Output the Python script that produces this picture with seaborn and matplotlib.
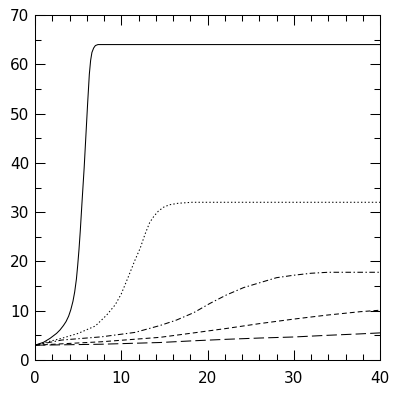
import numpy as np
import pandas as pd
import matplotlib
matplotlib.use("Agg")
import matplotlib.pyplot as plt
import seaborn as sns
from matplotlib.ticker import MultipleLocator

# values
x1 = [0, 1, 1.75, 2.5, 2.9, 3.3, 3.6, 3.9, 4.15, 4.4, 4.6, 4.8, 4.95, 5.1,
      5.25, 5.45, 5.7, 5.9, 6.1, 6.3, 6.45, 6.6, 6.8, 7.0, 7.3, 8, 40]
y1 = [3.0, 3.6, 4.4, 5.4, 6.1, 7.0, 7.8, 8.9, 10.2, 11.9, 13.8, 16.4, 19.2, 22.4,
      26.2, 32.0, 39.0, 45.5, 52.0, 58.0, 60.8, 62.4, 63.3, 63.8, 64.0, 64.0, 64.0]

x2 = [0, 1.5, 3.1, 5.0, 7.0, 8.3, 9.3, 10.0, 10.8, 11.6, 12.2, 12.75, 13.3,
      13.8, 14.3, 14.9, 15.6, 16.6, 18.2, 40]
y2 = [3.0, 3.7, 4.4, 5.4, 6.9, 9.1, 11.2, 13.4, 16.8, 20.3, 22.7, 25.5, 27.9,
      29.2, 30.2, 31.0, 31.5, 31.8, 32.0, 32.0]

x3 = [0, 3.1, 7.7, 11.6, 14.5, 16.4, 18.4, 20.3, 22.2, 24.2, 26.1, 28, 30, 32,
      34, 36, 40]
y3 = [3.0, 4.05, 4.7, 5.6, 7.0, 8.1, 9.6, 11.5, 13.2, 14.7, 15.7, 16.7, 17.2,
      17.6, 17.8, 17.8, 17.8]

x4 = [0, 7.7, 14.5, 18.4, 22.2, 26.1, 30, 33.8, 37.7, 40]
y4 = [3.0, 3.7, 4.6, 5.5, 6.4, 7.4, 8.3, 9.1, 9.8, 10.1]

x5 = [0, 7.7, 14.5, 18.4, 22.2, 26.1, 30, 33.8, 37.7, 40]
y5 = [3.0, 3.2, 3.55, 3.9, 4.2, 4.46, 4.67, 5.0, 5.3, 5.5]

xs = [x1, x2, x3, x4, x5]
ys = [y1, y2, y3, y4, y5]
styles = ["-", (0, (1, 1.6)), (0, (4, 1.8, 1, 1.8)), (0, (3.5, 2.2)), (0, (7.5, 3))]

sns.set_style("ticks")
plt.rcParams["font.family"] = ["DejaVu Sans"]
plt.rcParams["lines.scale_dashes"] = False

fig = plt.figure(figsize=(4, 3.94), dpi=100)
ax = fig.add_axes([35 / 400, 34 / 394, 345 / 400, 345 / 394])

for xv, yv, ls in zip(xs, ys, styles):
    df = pd.DataFrame({"x": xv, "y": yv})
    sns.lineplot(data=df, x="x", y="y", ax=ax, color="black",
                 linewidth=0.75, linestyle=ls, sort=False)

ax.set_xlim(0, 40)
ax.set_ylim(0, 70)
ax.set_xlabel("")
ax.set_ylabel("")
ax.xaxis.set_major_locator(MultipleLocator(10))
ax.xaxis.set_minor_locator(MultipleLocator(2))
ax.yaxis.set_major_locator(MultipleLocator(10))
ax.yaxis.set_minor_locator(MultipleLocator(5))
ax.tick_params(which="both", direction="in", top=True, right=True,
               width=0.75, colors="black")
ax.tick_params(which="major", length=7)
ax.tick_params(which="minor", length=4)
ax.tick_params(axis="x", which="major", pad=8, labelsize=11)
ax.tick_params(axis="y", which="major", pad=4, labelsize=11)
for s in ax.spines.values():
    s.set_linewidth(0.75)
    s.set_color("black")

fig.savefig("out.png", dpi=100, facecolor="white")
